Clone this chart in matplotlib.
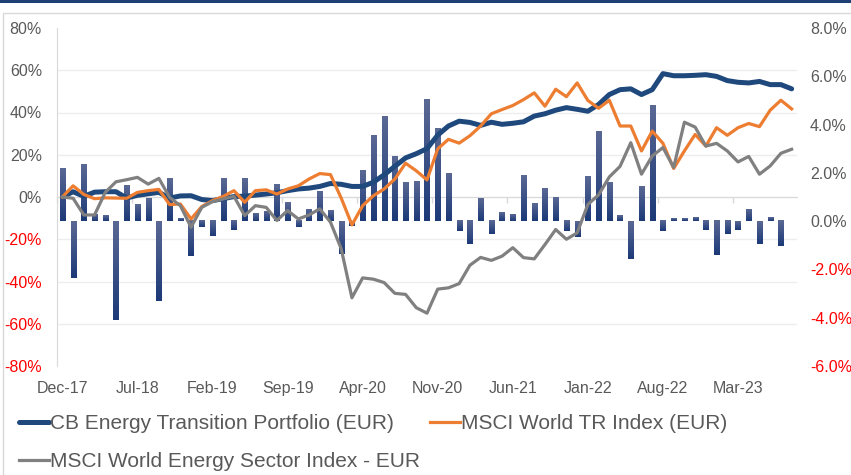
import numpy as np
import pandas as pd
import matplotlib
matplotlib.use('Agg')
from matplotlib import pyplot as plt
from matplotlib.colors import LinearSegmentedColormap
from matplotlib.patches import Rectangle

plt.rcParams['font.family'] = ['Liberation Sans', 'DejaVu Sans']

# cumulative performance, left axis (%)
portfolio = [0, 2.5, 0.3, 2.3, 2.5, 2.5, -0.5, 0.8, 1.5, 2.2, -0.5, 0.5, 0.6, -1.2, -1.7, -0.8,
             0.2, 0.4, 0.9, 1.4, 2.0, 3.0, 3.8, 4.2, 5.0, 6.4, 6.0, 5.0, 5.0, 7.0, 10.5, 14.5,
             18.5, 20.5, 22.9, 29.3, 33.6, 35.9, 35.3, 33.9, 35.4, 34.4, 34.9, 35.6, 38.3, 39.4,
             41.1, 42.3, 41.5, 40.6, 43.8, 48.5, 50.8, 51.2, 48.5, 50.8, 58.4, 57.4, 57.4, 57.6,
             57.9, 57.1, 55.1, 54.3, 54.0, 54.7, 53.2, 53.2, 51.2]
msci_world = [0, 5.3, 1.2, -0.8, -0.4, -0.5, -0.6, 2.2, 3.0, 3.6, -3.6, -3.3, -10.4, -4.5, -1.7,
              0.3, 3.0, -2.5, 3.0, 3.4, 1.4, 3.8, 5.3, 8.5, 11.1, 10.6, -0.5, -13.2, -4.1, 0.6,
              3.8, 8.5, 16.0, 12.4, 8.1, 22.8, 27.3, 25.5, 29.0, 33.6, 39.4, 41.4, 43.3, 46.1,
              49.3, 43.0, 51.0, 47.5, 54.0, 45.7, 42.0, 45.8, 33.6, 33.6, 21.8, 31.2, 25.4, 13.5,
              21.8, 29.6, 24.1, 32.8, 29.2, 32.8, 34.8, 33.3, 41.1, 45.8, 41.7]
msci_energy = [0, -0.6, -8.5, -8.5, 2.2, 7.2, 8.2, 9.3, 6.1, 8.8, -0.2, -4.1, -14.3, -4.9, -2.2,
               -0.9, 0.3, -8.8, -4.1, -4.9, -11.1, -6.4, -10.4, -8.5, -5.6, -11.9, -24.5, -47.7,
               -38.3, -38.9, -40.5, -45.6, -46.1, -52.4, -55.0, -43.6, -43.0, -41.0, -32.3, -28.6,
               -30.0, -28.0, -24.0, -28.7, -29.3, -22.5, -15.4, -20.0, -17.0, -3.5, 1.0, 9.5, 14.5,
               25.7, 10.8, 19.4, 23.4, 14.0, 35.4, 33.1, 24.1, 25.4, 21.8, 16.6, 19.2, 10.8, 14.7,
               20.7, 22.6]
# monthly returns, right axis (%)
monthly = [2.16, -2.34, 2.32, 0.26, 0.21, -4.09, 1.47, 0.67, 0.95, -3.30, 1.74, 0.10, -1.45,
           -0.25, -0.63, 1.77, -0.38, 1.77, 0.29, 0.40, 1.50, 0.76, -0.26, 0.48, 1.22, 0.45,
           -1.36, -0.19, 2.11, 3.53, 4.32, 2.68, 1.58, 1.62, 5.04, 3.84, 1.95, -0.42, -0.96,
           0.95, -0.55, 0.35, 0.28, 1.88, 0.72, 1.33, 0.96, -0.42, -0.66, 1.84, 3.69, 1.58,
           0.24, -1.56, 1.43, 4.79, -0.42, 0.10, 0.10, 0.13, -0.38, -1.41, -0.55, -0.35, 0.47,
           -0.93, 0.13, -1.04]
months = pd.date_range('2017-12-01', periods=len(portfolio), freq='MS').strftime('%b-%y').tolist()
series_names = ['CB Energy Transition Portfolio (EUR)', 'MSCI World TR Index (EUR)',
                'MSCI World Energy Sector Index - EUR']

left_lim = (-80, 80)
right_lim = (-6, 8)
grey_txt = '#595959'
red_txt = '#FF0000'

fig = plt.figure(figsize=(8.51, 4.75), dpi=100)
ax = fig.add_axes([57 / 851, 1 - 366 / 475, 740 / 851, 338 / 475])
axr = ax.twinx()
ax.set_zorder(axr.get_zorder() + 1)
ax.patch.set_visible(False)

x = np.arange(len(portfolio))

# bars with vertical gradient on the right axis
cmap = LinearSegmentedColormap.from_list('bar', ['#5a6894', '#1c3a78'])
grad = np.linspace(0, 1, 64).reshape(-1, 1)
w = 0.48
for xi, v in zip(x[:len(monthly)], monthly):
    axr.imshow(grad, cmap=cmap, aspect='auto', origin='upper', zorder=1,
               extent=(xi - w / 2, xi + w / 2, min(0, v), max(0, v)))

# lines on the left axis
l1, = ax.plot(x, portfolio, color='#1F497D', lw=3.6, solid_joinstyle='round',
              solid_capstyle='round', label=series_names[0])
l2, = ax.plot(x, msci_world, color='#ED7D31', lw=2.3, solid_joinstyle='round', label=series_names[1])
l3, = ax.plot(x, msci_energy, color='#808080', lw=2.3, solid_joinstyle='round', label=series_names[2])

ax.set_xlim(-0.5, len(portfolio) - 0.5)
ax.set_ylim(*left_lim)
axr.set_ylim(*right_lim)

# left ticks
lt = np.arange(-80, 81, 20)
ax.set_yticks(lt, [f'{v}%' for v in lt])
for lab, v in zip(ax.get_yticklabels(), lt):
    lab.set_color(red_txt if v < 0 else grey_txt)
ax.tick_params(axis='y', length=0, pad=10.8, labelsize=11.5)

# right ticks
rt = np.arange(-6, 8.1, 2)
axr.set_yticks(rt, [f'{v:.1f}%' for v in rt])
for lab, v in zip(axr.get_yticklabels(), rt):
    lab.set_color(red_txt if v < 0 else grey_txt)
axr.tick_params(axis='y', which='major', length=0, pad=9.4, labelsize=11.5)

# gridlines follow the left axis, drawn behind the bars
to_right = lambda v: right_lim[0] + (right_lim[1] - right_lim[0]) * (v - left_lim[0]) / (left_lim[1] - left_lim[0])
axr.set_yticks(to_right(lt), minor=True)
axr.tick_params(axis='y', which='minor', length=0)
axr.set_axisbelow(True)
axr.grid(True, which='minor', axis='y', color='#EDEDED', lw=1)

# x axis: labels at the bottom, category axis line at 0%
ax.set_xticks(x[::7], months[::7])
ax.set_xticks(np.arange(-0.5, len(portfolio), 7), minor=True)
ax.tick_params(axis='x', which='major', length=0, pad=10.5, labelsize=11.5, colors=grey_txt)
ax.tick_params(axis='x', which='minor', length=0)
axr.xaxis.set_visible(True)
axr.tick_params(axis='x', which='major', length=0, labelbottom=False)
axr.tick_params(axis='x', which='minor', length=4, width=1, color='#D9D9D9', direction='out')
axr.spines['bottom'].set_position(('data', to_right(0)))
axr.spines['bottom'].set_color('#D9D9D9')
axr.spines['bottom'].set_zorder(0.6)

for s in ['top', 'right', 'bottom']:
    ax.spines[s].set_visible(False)
ax.spines['left'].set_color('#D9D9D9')
for s in ['top', 'right', 'left']:
    axr.spines[s].set_visible(False)

fig.legend(handles=[l1, l3, l2], loc='upper left', bbox_to_anchor=(19 / 851, 1 - 414 / 475),
           ncol=2, frameon=False, fontsize=15, handlelength=1.45, handletextpad=0.05,
           columnspacing=0.45, labelspacing=0.92, borderpad=0, borderaxespad=0,
           labelcolor=grey_txt)

# chart frame and top band
fig.add_artist(Rectangle((3 / 851, -0.1), 1.2, 1.1 - 13 / 475, transform=fig.transFigure,
                         fill=False, edgecolor='#D9D9D9', lw=1))
fig.add_artist(Rectangle((0, 1 - 2.5 / 475), 1, 2.5 / 475, transform=fig.transFigure,
                         facecolor='#1F3F77', edgecolor='none'))

fig.savefig('out.png', dpi=100)
